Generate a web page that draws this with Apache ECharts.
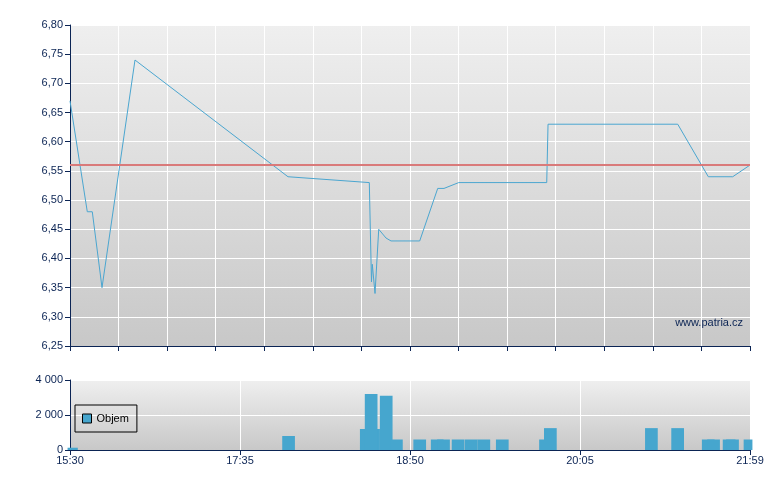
<!DOCTYPE html>
<html><head><meta charset="utf-8">
<script src="https://cdn.jsdelivr.net/npm/echarts@6/dist/echarts.min.js"></script>
<style>html,body{margin:0;padding:0;background:#fff}#c{width:780px;height:490px}</style>
</head><body><div id="c"></div>
<script>
// x positions are in "slot" units of the chart's (non-linear) time axis, 0..14
const priceX = [0, 0.03, 0.356, 0.459, 0.659, 1.338, 4.488, 6.162, 6.207, 6.224, 6.28, 6.356, 6.506, 6.609, 7.20, 7.571, 7.70, 8.003, 9.815, 9.842, 12.512, 13.142, 13.644, 14.0];
const priceY = [6.67, 6.67, 6.48, 6.48, 6.35, 6.74, 6.54, 6.53, 6.36, 6.39, 6.34, 6.45, 6.435, 6.43, 6.43, 6.52, 6.52, 6.53, 6.53, 6.63, 6.63, 6.54, 6.54, 6.56];
const prevClose = 6.56;
const volX = [0.03, 4.5, 6.10, 6.25, 6.20, 6.51, 6.72, 7.20, 7.56, 7.69, 7.99, 8.26, 8.52, 8.90, 9.79, 9.89, 11.97, 12.51, 13.14, 13.25, 13.57, 13.64, 14.0];
const volY = [130, 800, 1200, 1200, 3200, 3100, 600, 600, 600, 600, 600, 600, 600, 600, 600, 1250, 1250, 1250, 600, 600, 600, 600, 600];
const timeLabels = ['15:30', '17:35', '18:50', '20:05', '21:59'];
const priceMin = 6.25, priceMax = 6.80, priceStep = 0.05;
const volMax = 4000, volStep = 2000;

const navy = '#0b2454';
const font = 'Liberation Sans, Arial, sans-serif';
const bg = () => new echarts.graphic.LinearGradient(0, 0, 0, 1, [{offset: 0, color: '#efefef'}, {offset: 1, color: '#c8c8c8'}]);

const chart = echarts.init(document.getElementById('c'), null, {renderer: 'canvas'});
chart.setOption({
  animation: false,
  textStyle: {fontFamily: font},
  grid: [
    {left: 70, right: 30, top: 25, height: 321, show: true, backgroundColor: bg(), borderWidth: 0},
    {left: 70, right: 30, top: 380, height: 70, show: true, backgroundColor: bg(), borderWidth: 0}
  ],
  legend: {
    data: ['Objem'], left: 75, top: 405, orient: 'vertical',
    borderColor: '#000', borderWidth: 1, borderRadius: 0, padding: [8, 8, 8, 7],
    itemWidth: 9, itemHeight: 9, itemGap: 4,
    icon: 'rect',
    itemStyle: {borderColor: '#000', borderWidth: 1},
    textStyle: {color: '#000', fontSize: 11, fontFamily: font}
  },
  xAxis: [
    {gridIndex: 0, type: 'value', min: 0, max: 14, interval: 1,
     axisLine: {show: true, onZero: false, lineStyle: {color: navy, width: 1}},
     axisTick: {show: true, length: 5, lineStyle: {color: navy}},
     axisLabel: {show: false},
     splitLine: {show: true, lineStyle: {color: '#ffffff', width: 1}}},
    {gridIndex: 1, type: 'value', min: 0, max: 14, interval: 3.5,
     axisLine: {show: true, onZero: false, lineStyle: {color: navy, width: 1}},
     axisTick: {show: true, length: 5, lineStyle: {color: navy}},
     axisLabel: {color: navy, fontSize: 11, fontFamily: font, margin: 5,
       formatter: v => timeLabels[Math.round(v / 3.5)] || ''},
     splitLine: {show: true, lineStyle: {color: '#ffffff', width: 1}}}
  ],
  yAxis: [
    {gridIndex: 0, type: 'value', min: priceMin, max: priceMax, interval: priceStep,
     axisLine: {show: true, lineStyle: {color: navy, width: 1}},
     axisTick: {show: true, length: 5, lineStyle: {color: navy}},
     axisLabel: {color: navy, fontSize: 11, fontFamily: font, margin: 7,
       formatter: v => v.toFixed(2).replace('.', ',')},
     splitLine: {show: true, lineStyle: {color: '#ffffff', width: 1}}},
    {gridIndex: 1, type: 'value', min: 0, max: volMax, interval: volStep,
     axisLine: {show: true, lineStyle: {color: navy, width: 1}},
     axisTick: {show: true, length: 5, lineStyle: {color: navy}},
     axisLabel: {color: navy, fontSize: 11, fontFamily: font, margin: 7,
       formatter: v => v === 0 ? '0' : (v / 1000) + ' 000'},
     splitLine: {show: true, lineStyle: {color: '#ffffff', width: 1}}}
  ],
  graphic: [
    {type: 'text', right: 37, top: 317, style: {text: 'www.patria.cz', fill: navy, font: '11px ' + font}}
  ],
  series: [
    {name: 'Cena', type: 'line', xAxisIndex: 0, yAxisIndex: 0, symbol: 'none',
     lineStyle: {color: '#4ba6d0', width: 1}, itemStyle: {color: '#4ba6d0'},
     data: priceX.map((x, i) => [x, priceY[i]]),
     markLine: {silent: true, symbol: 'none', label: {show: false},
       lineStyle: {color: '#d97a7a', width: 2, type: 'solid'},
       data: [{yAxis: prevClose}]}},
    {name: 'Objem', type: 'bar', xAxisIndex: 1, yAxisIndex: 1, barWidth: 12.7, barGap: '-100%',
     itemStyle: {color: '#46a6ce', borderWidth: 0},
     emphasis: {disabled: true},
     data: volX.map((x, i) => [x, volY[i]])}
  ]
});
</script></body></html>
